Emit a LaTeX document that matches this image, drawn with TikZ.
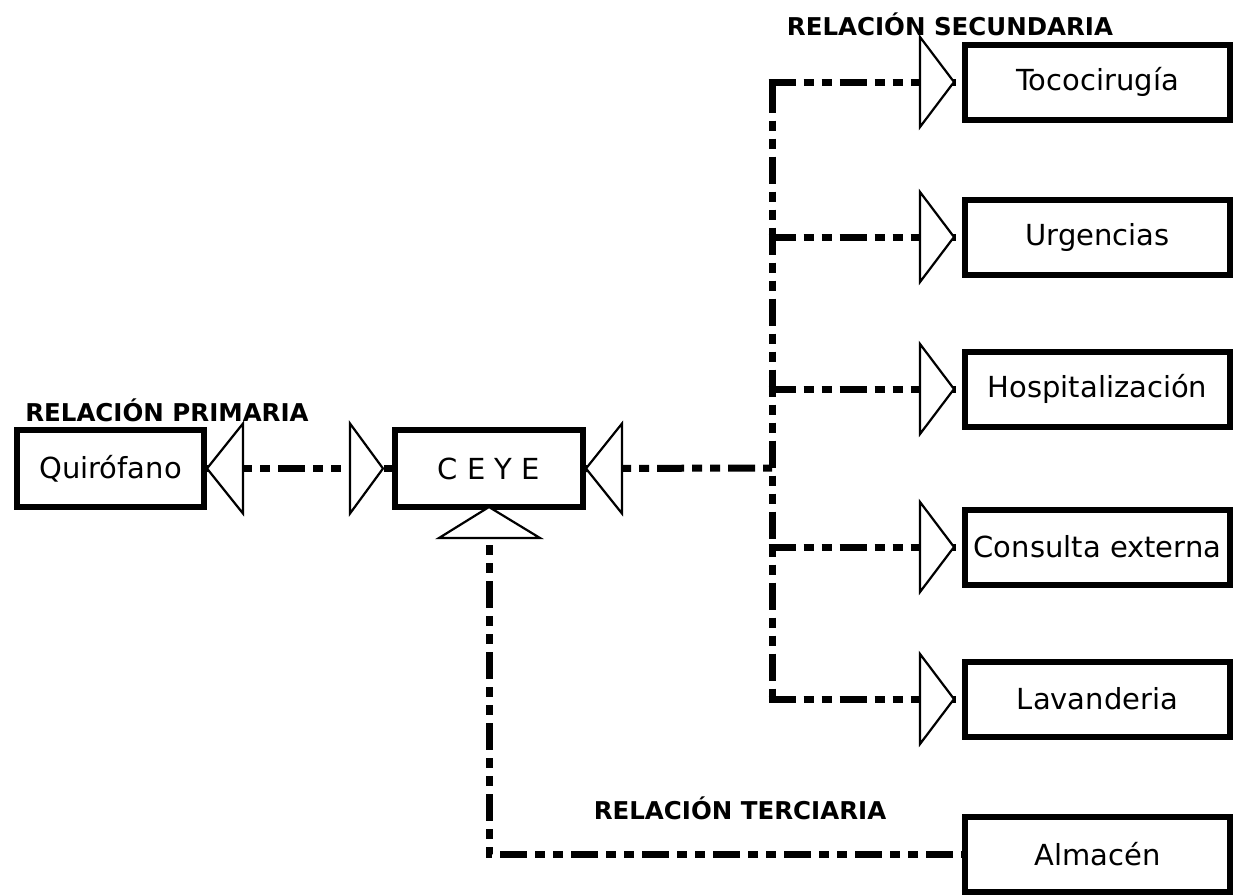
\documentclass[tikz,border=0pt]{standalone}
\usepackage{fontspec}
\setmainfont{DejaVu Sans}
\newfontfamily\boxfont{DejaVu Sans}
\newfontfamily\tagfont{DejaVu Sans Bold}
\begin{document}
\begin{tikzpicture}[x=1pt, y=-1pt,
  box/.style={draw, line width=6pt, minimum width=265pt, minimum height=75pt,
    inner sep=0pt, font=\boxfont\fontsize{29}{34}\selectfont},
  tag/.style={inner sep=0pt, font=\tagfont\fontsize{24.5}{29}\selectfont},
  tri/.style={draw, fill=white, line width=2.2pt, line join=miter},
  rel/.style={line width=7pt, dash pattern=on 27pt off 8pt on 10pt off 8pt on 10pt off 8pt}]
\useasboundingbox (0,0) rectangle (1236,894);

% main boxes
\node[box, minimum width=187pt, minimum height=77pt] (quir) at (110.5,468.5) {Quirófano};
\node[box, minimum width=188pt, minimum height=77pt] (ceye) at (489,468.5) {C E Y E};

% secondary services
\node[box] (toco) at (1097.5,82)  {Tococirugía};
\node[box] (urg)  at (1097.5,237) {Urgencias};
\node[box] (hosp) at (1097.5,389) {Hospitalización};
\node[box] (cons) at (1097.5,547) {Consulta externa};
\node[box] (lav)  at (1097.5,699) {Lavanderia};
\node[box] (alm)  at (1097.5,854) {Almacén};

% labels
\node[tag] (lp) at (167,410) {RELACIÓN PRIMARIA};
\node[tag] (ls) at (950,24)  {RELACIÓN SECUNDARIA};
\node[tag] (lt) at (740,808) {RELACIÓN TERCIARIA};

% relations
\coordinate (bus) at (772,468);
\draw[rel] (quir) -- (ceye);
\draw[rel] (ceye.east) -- (bus);
\draw[rel] ([yshift=-3.5pt]bus |- toco.west) -- ([yshift=3.5pt]bus |- lav.west);
\foreach \n in {toco,urg,hosp,cons,lav}
  \draw[rel] ([xshift=-3.5pt]bus |- \n.west) -- (\n.west);
\draw[rel] (ceye.south) -- (ceye.south |- alm.west) -- (alm.west);

% open arrow heads
\draw[tri] (quir.east) -- ++(36,-45) -- ++(0,90) -- cycle;
\draw[tri] ([xshift=-9pt]ceye.west) -- ++(-33,-45) -- ++(0,90) -- cycle;
\draw[tri] (ceye.east) -- ++(36,-45) -- ++(0,90) -- cycle;
\draw[tri] ([yshift=3pt]ceye.south) -- ++(-50,31) -- ++(101,0) -- cycle;
\foreach \n in {toco,urg,hosp,cons,lav}
  \draw[tri] ([xshift=-8pt]\n.west) -- ++(-34,-45) -- ++(0,90) -- cycle;
\end{tikzpicture}
\end{document}
